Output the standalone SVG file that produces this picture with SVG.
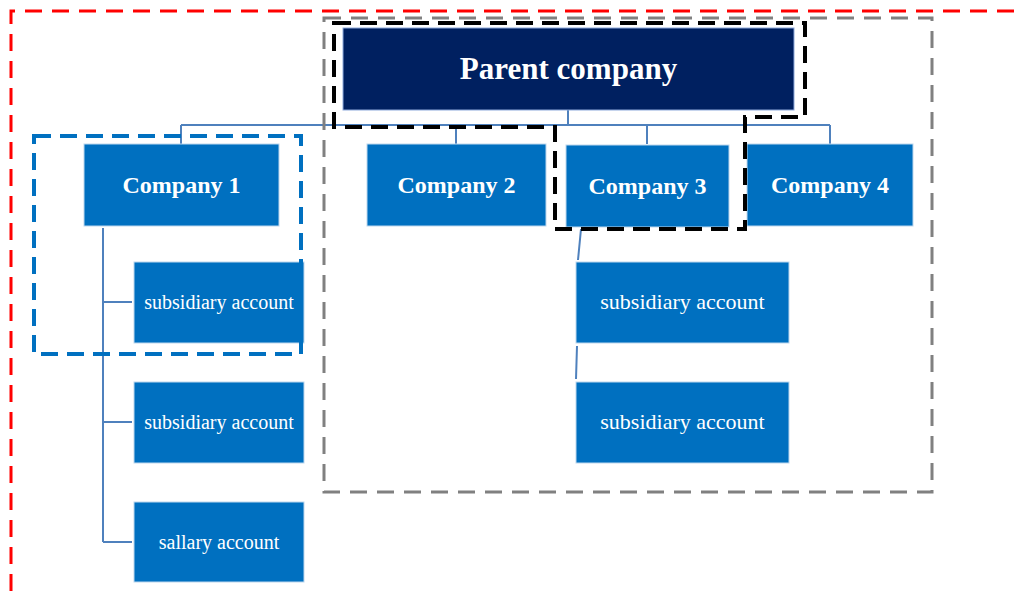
<svg xmlns="http://www.w3.org/2000/svg" width="1014" height="591" viewBox="0 0 1014 591">
<style>
.box{fill:#0070C0;stroke:#BDD7EE;stroke-width:1}
.parent{fill:#002060;stroke:#8EA9DB;stroke-width:1}
.t{font-family:"Liberation Serif","Times New Roman",serif;fill:#FFFFFF;text-anchor:middle}
.tb{font-weight:bold;font-size:24px}
.ts{font-size:20px}
.tr{font-size:22px}
.conn{stroke:#4F81BD;stroke-width:2;fill:none}
</style>
<rect width="1014" height="591" fill="#FFFFFF"/>
<g id="connectors">
<path class="conn" d="M568,110 V125 M181,125 H830 M181,125 V144 M456,125 V144 M647,125 V144 M830,125 V144"/>
<path class="conn" d="M103,228 V542 M103,302 H132 M103,422 H132 M103,542 H132"/>
<path class="conn" d="M581,229 L578,260 M577,346 L576,379"/>
</g>
<g id="parent">
<rect class="parent" x="343" y="28" width="451" height="82"/>
<text class="t" x="568.5" y="79" font-size="31" font-weight="bold">Parent company</text>
</g>
<g id="company1">
<rect class="box" x="84" y="144" width="195" height="82"/>
<text class="t tb" x="181.5" y="193">Company 1</text>
</g>
<g id="company2">
<rect class="box" x="367" y="144" width="179" height="82"/>
<text class="t tb" x="456.5" y="193">Company 2</text>
</g>
<g id="company3">
<rect class="box" x="566" y="145" width="163" height="82"/>
<text class="t tb" x="647.5" y="194">Company 3</text>
</g>
<g id="company4">
<rect class="box" x="747" y="144" width="166" height="82"/>
<text class="t tb" x="830" y="193">Company 4</text>
</g>
<g id="c1sub1">
<rect class="box" x="134" y="262" width="170" height="81"/>
<text class="t ts" x="219" y="309">subsidiary account</text>
</g>
<g id="c1sub2">
<rect class="box" x="134" y="382" width="170" height="81"/>
<text class="t ts" x="219" y="429">subsidiary account</text>
</g>
<g id="c1salary">
<rect class="box" x="134" y="502" width="170" height="80"/>
<text class="t ts" x="219" y="549">sallary account</text>
</g>
<g id="c3sub1">
<rect class="box" x="576" y="262" width="213" height="81"/>
<text class="t tr" x="682.5" y="309">subsidiary account</text>
</g>
<g id="c3sub2">
<rect class="box" x="576" y="382" width="213" height="81"/>
<text class="t tr" x="682.5" y="429">subsidiary account</text>
</g>
<g id="frames" fill="none">
<path d="M1014,11 H11 V591" stroke="#FF0000" stroke-width="3" stroke-dasharray="17,10"/>
<rect x="324" y="18" width="608" height="474" stroke="#808080" stroke-width="3" stroke-dasharray="17,10"/>
<rect x="34" y="136" width="267" height="218" stroke="#0070C0" stroke-width="4" stroke-dasharray="17,9"/>
<path d="M334,23 H805 V117 H745 V229 H555 V127 H334 Z" stroke="#000000" stroke-width="4" stroke-dasharray="17,9"/>
</g>
</svg>
